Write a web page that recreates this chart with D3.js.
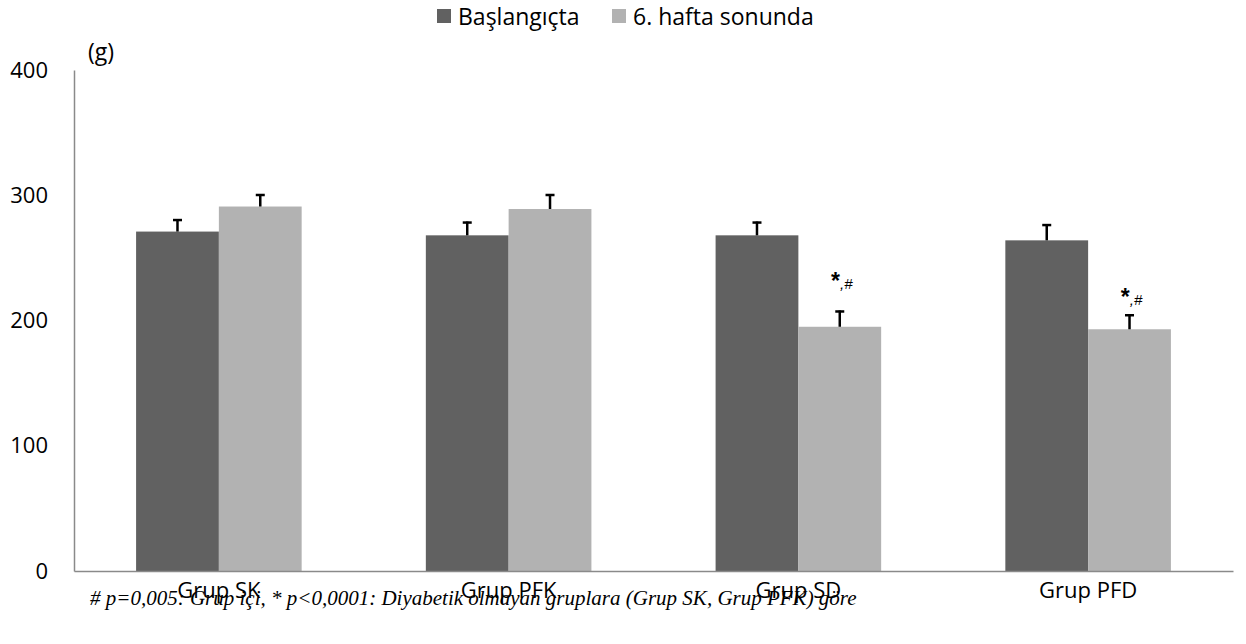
<!DOCTYPE html>
<html><head><meta charset="utf-8">
<script src="https://cdn.jsdelivr.net/npm/d3@7"></script>
<style>body{margin:0;background:#fff}svg{display:block}</style>
</head><body>
<svg id="c" width="1246" height="644"></svg>
<script>
const categories = ["Grup SK", "Grup PFK", "Grup SD", "Grup PFD"];
const seriesNames = ["Başlangıçta", "6. hafta sonunda"];
const baslangic = [271, 268, 268, 264];
const hafta6 = [291, 289, 195, 193];
const baslangicErr = [10, 11, 11, 13];
const hafta6Err = [10, 12, 13, 12];
const yTicks = [0, 100, 200, 300, 400];
const annotations = [null, null, "*,#", "*,#"];
const annotationValue = [null, null, 225, 212];
const unitLabel = "(g)";
const footnote = "# p=0,005: Grup içi, * p<0,0001: Diyabetik olmayan gruplara (Grup SK, Grup PFK) göre";

(function () {
const colors = ["#616161", "#b2b2b2"];
const font = "'Open Sans', Lato, sans-serif";
const svg = d3.select("#c");
const pL = 74, pR = 1233, pT = 70, pB = 571;

const x = d3.scaleBand().domain(categories).range([pL, pR]).padding(0);
const groupW = x.bandwidth() * 2 / 3.5;
const xs = d3.scaleBand().domain([0, 1]).range([0, groupW]).padding(0);
const y = d3.scaleLinear().domain([0, 400]).range([pB, pT]);

const rows = categories.map((c, i) => ({c, i, vals: [baslangic[i], hafta6[i]], errs: [baslangicErr[i], hafta6Err[i]]}));
const g = svg.append("g");
rows.forEach(r => {
  const gx = x(r.c) + (x.bandwidth() - groupW) / 2;
  [0, 1].forEach(s => {
    const bx = gx + xs(s);
    g.append("rect").attr("x", bx).attr("y", y(r.vals[s])).attr("width", xs.bandwidth())
      .attr("height", y(0) - y(r.vals[s])).attr("fill", colors[s]);
    const cx = bx + xs.bandwidth() / 2;
    const ye = y(r.vals[s] + r.errs[s]);
    g.append("line").attr("x1", cx).attr("x2", cx).attr("y1", y(r.vals[s])).attr("y2", ye)
      .attr("stroke", "#000").attr("stroke-width", 2.5);
    g.append("line").attr("x1", cx - 4.5).attr("x2", cx + 4.5).attr("y1", ye + 1).attr("y2", ye + 1)
      .attr("stroke", "#000").attr("stroke-width", 2.5);
  });
  if (annotations[r.i]) {
    const cx = gx + xs(1) + xs.bandwidth() / 2;
    const t = g.append("text").attr("x", cx + 2).attr("y", y(annotationValue[r.i]))
      .attr("text-anchor", "middle").attr("font-family", "'Liberation Sans', Arial, sans-serif").attr("fill", "#000");
    t.append("tspan").attr("font-size", 23).attr("font-weight", "bold").text(annotations[r.i].slice(0, 1));
    t.append("tspan").attr("font-size", 15).attr("font-style", "italic").text(annotations[r.i].slice(1));
  }
});

const yAxis = svg.append("g").attr("transform", `translate(${pL},0)`)
  .call(d3.axisLeft(y).tickValues(yTicks).tickSize(0).tickPadding(26));
yAxis.select(".domain").attr("stroke", "#8a8a8a").attr("stroke-width", 1.5);
yAxis.selectAll("text").attr("font-family", font).attr("font-size", 22).attr("fill", "#000");

const xAxis = svg.append("g").attr("transform", `translate(0,${pB})`)
  .call(d3.axisBottom(x).tickSize(0).tickPadding(11));
xAxis.select(".domain").attr("stroke", "#8a8a8a").attr("stroke-width", 1.5);
xAxis.selectAll("text").attr("font-family", font).attr("font-size", 22).attr("fill", "#000");

svg.append("text").attr("x", 88).attr("y", 60).attr("font-family", font).attr("font-size", 23).text(unitLabel);

const legX = [437, 612];
seriesNames.forEach((n, i) => {
  svg.append("rect").attr("x", legX[i]).attr("y", 9).attr("width", 14).attr("height", 14).attr("fill", colors[i]);
  svg.append("text").attr("x", legX[i] + 21).attr("y", 25).attr("font-family", font).attr("font-size", 23).text(n);
});

svg.append("text").attr("x", 90).attr("y", 605).attr("font-family", "'Liberation Serif', 'Times New Roman', serif")
  .attr("font-style", "italic").attr("font-size", 21).attr("fill", "#000").text(footnote);
})();
</script>
</body></html>
